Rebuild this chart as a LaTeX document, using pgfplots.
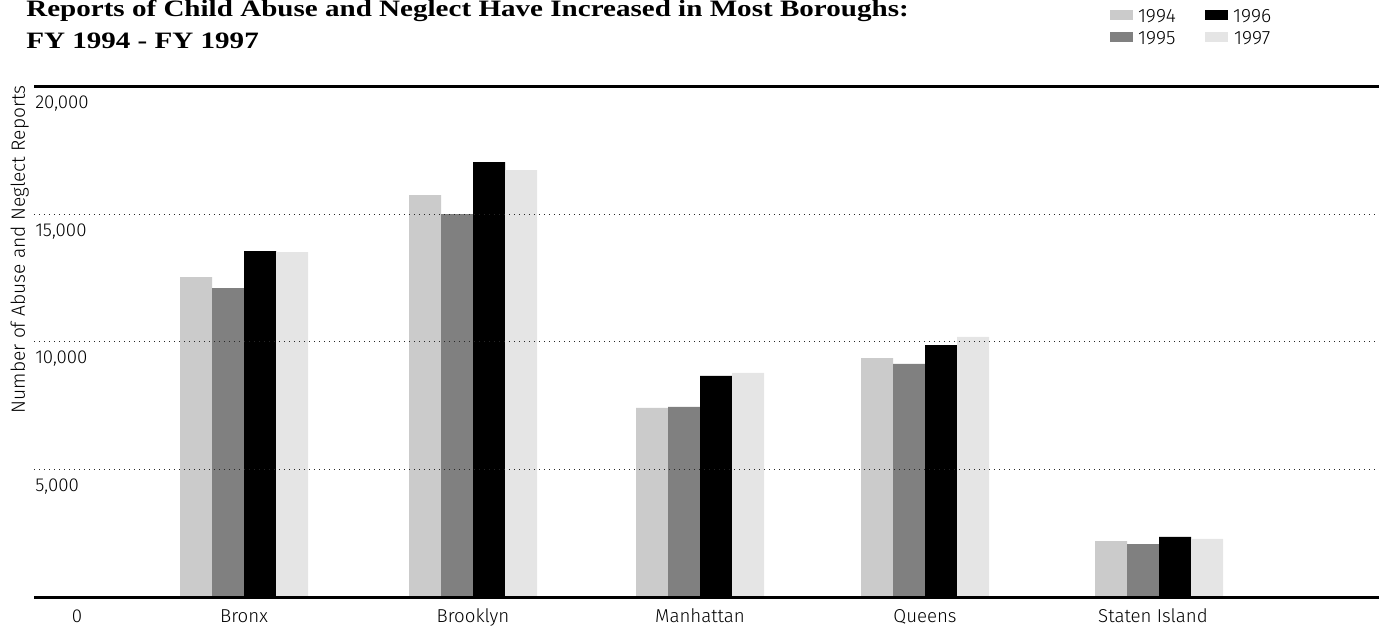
\documentclass[border=0pt]{standalone}
\usepackage{fontspec}
\setmainfont{Fira Sans}[UprightFont=* Light]
\newfontfamily\titlefont{Liberation Serif}
\usepackage{pgfplots}
\pgfplotsset{compat=1.18}
\definecolor{cA}{HTML}{CBCBCB}
\definecolor{cB}{HTML}{808080}
\definecolor{cC}{HTML}{000000}
\definecolor{cD}{HTML}{E5E5E5}
\pgfplotsset{
  /pgfplots/ybar legend/.style={
    /pgfplots/legend image code/.code={\fill[##1] (0pt,-2.25pt) rectangle (17.25pt,5.25pt);}}
}
% wide bold serif for the heading
\newcommand\headline[1]{\scalebox{1.239}[1]{\titlefont\bfseries\fontsize{17.6}{20}\selectfont #1}}
\begin{document}
\begin{tikzpicture}
\begin{axis}[
  scale only axis,
  width=1008.75pt, height=383.25pt,
  xmin=34, xmax=1379,
  ymin=0, ymax=20000,
  ybar=0pt, bar width=32,
  axis line style={draw=none},
  axis on top,
  major tick length=0pt,
  xtick={77,244,473,700,925,1153},
  xticklabels={0,Bronx,Brooklyn,Manhattan,Queens,Staten Island},
  xticklabel style={anchor=base, inner sep=0pt, yshift=-18.4pt},
  ytick={5000,10000,15000,20000},
  scaled y ticks=false,
  yticklabel style={anchor=base west, inner sep=0pt, xshift=0.75pt, yshift=-16.5pt,
    /pgf/number format/.cd, 1000 sep={,}, assume math mode=true},
  ymajorgrids,
  major grid style={black!85, line width=0.75pt, dash pattern=on 0.75pt off 3pt},
  extra y ticks={0,20000},
  extra y tick labels={},
  extra y tick style={grid=major, major grid style={solid, black, line width=1.7pt}},
  ylabel={Number of Abuse and Neglect Reports},
  ylabel style={at={(axis description cs:-0.0067,1.003)}, anchor=base east, inner sep=0pt,
    font=\fontsize{14.4}{16}\selectfont},
  font=\fontsize{14}{16}\selectfont,
  legend columns=2,
  transpose legend,
  legend style={draw=none, fill=none, at={(axis description cs:0.8,1.151)}, anchor=north west,
    inner sep=0pt, outer sep=0pt, font=\fontsize{14.5}{16}\selectfont,
    nodes={inner sep=0pt},
    row sep=5pt,
    /tikz/every odd column/.append style={column sep=3.75pt},
    /tikz/every even column/.append style={column sep=22pt}},
]
% FY 1994 .. FY 1997 reports by borough
\addplot[fill=cA, draw=none] coordinates {(244,12540) (473,15750) (700,7420) (925,9370) (1159,2210)};
\addplot[fill=cB, draw=none] coordinates {(244,12110) (473,15000) (700,7460) (925,9140) (1159,2090)};
\addplot[fill=cC, draw=none] coordinates {(244,13560) (473,17040) (700,8670) (925,9880) (1159,2370)};
\addplot[fill=cD, draw=none] coordinates {(244,13520) (473,16730) (700,8790) (925,10200) (1159,2290)};
\legend{1994,1995,1996,1997}
\end{axis}
\node[anchor=base west, inner sep=0pt] at (-6pt,435.4pt)
  {\headline{Reports of Child Abuse and Neglect Have Increased in Most Boroughs:}};
\node[anchor=base west, inner sep=0pt] at (-6pt,411.4pt)
  {\headline{FY 1994 - FY 1997}};
\pgfresetboundingbox
\path[use as bounding box] (-25.5pt,-25.125pt) rectangle (1008.75pt,448.125pt);
\end{tikzpicture}
\end{document}
